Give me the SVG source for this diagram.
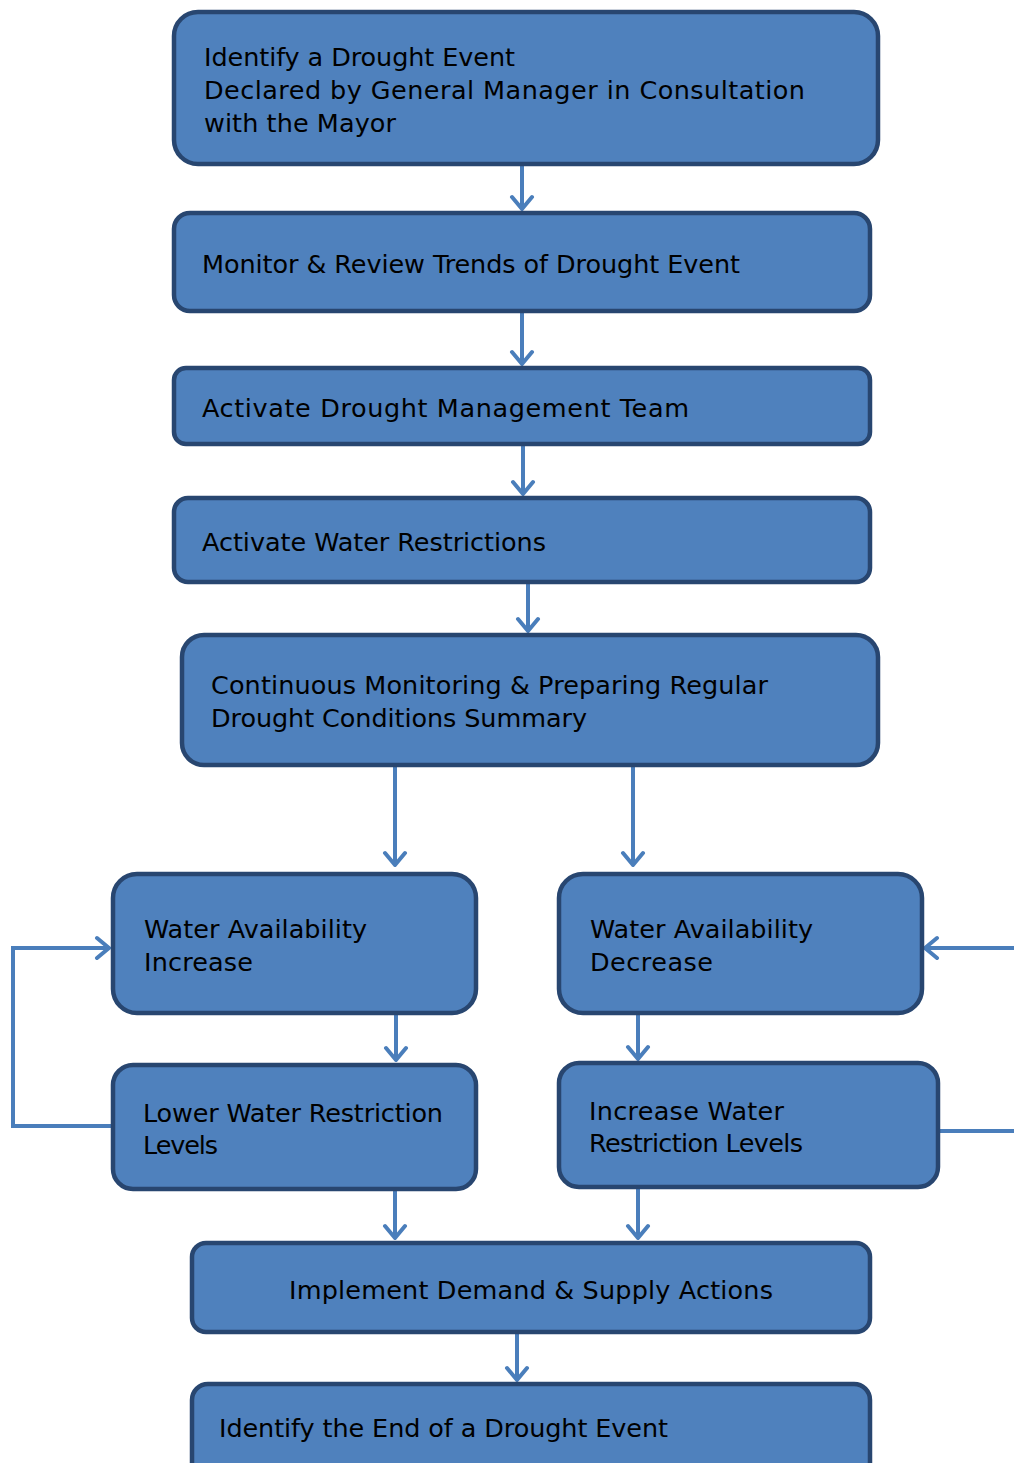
<svg xmlns="http://www.w3.org/2000/svg" width="1014" height="1463" viewBox="0 0 1014 1463">
<style>
.box{fill:#4F81BD;stroke:#284670;stroke-width:4.5}
.t{font-family:"DejaVu Sans","Liberation Sans",sans-serif;font-size:25.5px;fill:#000}
.c{fill:none;stroke:#4A7EBB;stroke-width:4}
</style>
<defs>
<marker id="b" viewBox="0 0 26 26" refX="24" refY="13" markerWidth="26" markerHeight="26" markerUnits="userSpaceOnUse" orient="auto">
<path d="M12,3 L24,13 L12,23" fill="none" stroke="#4A7EBB" stroke-width="4" stroke-linecap="round" stroke-linejoin="round"/>
</marker>
</defs>
<g id="connectors">
<path class="c" d="M522,164 V209" marker-end="url(#b)"/>
<path class="c" d="M522,311 V364" marker-end="url(#b)"/>
<path class="c" d="M523,444 V494" marker-end="url(#b)"/>
<path class="c" d="M528,582 V631" marker-end="url(#b)"/>
<path class="c" d="M395,765 V865" marker-end="url(#b)"/>
<path class="c" d="M633,765 V865" marker-end="url(#b)"/>
<path class="c" d="M396,1013 V1060" marker-end="url(#b)"/>
<path class="c" d="M638,1013 V1059" marker-end="url(#b)"/>
<path class="c" d="M395,1189 V1238" marker-end="url(#b)"/>
<path class="c" d="M638,1187 V1238" marker-end="url(#b)"/>
<path class="c" d="M517,1332 V1380" marker-end="url(#b)"/>
<path class="c" d="M113,1126 H13 V948 H109" marker-end="url(#b)"/>
<path class="c" d="M1016,948 H925" marker-end="url(#b)"/>
<path class="c" d="M936,1131 H1016"/>
</g>
<g id="n1"><rect class="box" x="174" y="12" width="704" height="152" rx="24"/>
<text class="t"><tspan x="204" y="66" textLength="311">Identify a Drought Event</tspan><tspan x="204" y="99" textLength="601">Declared by General Manager in Consultation</tspan><tspan x="204" y="132" textLength="192">with the Mayor</tspan></text></g>
<g id="n2"><rect class="box" x="174" y="213" width="696" height="98" rx="16"/>
<text class="t" x="202" y="273" textLength="538">Monitor &amp; Review Trends of Drought Event</text></g>
<g id="n3"><rect class="box" x="174" y="368" width="696" height="76" rx="12"/>
<text class="t" x="202" y="417" textLength="487">Activate Drought Management Team</text></g>
<g id="n4"><rect class="box" x="174" y="498" width="696" height="84" rx="14"/>
<text class="t" x="202" y="551" textLength="344">Activate Water Restrictions</text></g>
<g id="n5"><rect class="box" x="182" y="635" width="696" height="130" rx="22"/>
<text class="t"><tspan x="211" y="694" textLength="557">Continuous Monitoring &amp; Preparing Regular</tspan><tspan x="211" y="727" textLength="376">Drought Conditions Summary</tspan></text></g>
<g id="n6"><rect class="box" x="113" y="874" width="363" height="139" rx="24"/>
<text class="t"><tspan x="144" y="938" textLength="223">Water Availability</tspan><tspan x="144" y="971" textLength="109">Increase</tspan></text></g>
<g id="n7"><rect class="box" x="559" y="874" width="363" height="139" rx="24"/>
<text class="t"><tspan x="590" y="938" textLength="223">Water Availability</tspan><tspan x="590" y="971" textLength="123">Decrease</tspan></text></g>
<g id="n8"><rect class="box" x="113" y="1065" width="363" height="124" rx="20"/>
<text class="t"><tspan x="143" y="1122" textLength="300">Lower Water Restriction</tspan><tspan x="143" y="1154" textLength="75">Levels</tspan></text></g>
<g id="n9"><rect class="box" x="559" y="1063" width="379" height="124" rx="20"/>
<text class="t"><tspan x="589" y="1120" textLength="195">Increase Water</tspan><tspan x="589" y="1152" textLength="214">Restriction Levels</tspan></text></g>
<g id="n10"><rect class="box" x="192" y="1243" width="678" height="89" rx="14"/>
<text class="t" x="289" y="1299" textLength="484">Implement Demand &amp; Supply Actions</text></g>
<g id="n11"><rect class="box" x="192" y="1384" width="678" height="100" rx="16"/>
<text class="t" x="219" y="1437" textLength="449">Identify the End of a Drought Event</text></g>
</svg>
